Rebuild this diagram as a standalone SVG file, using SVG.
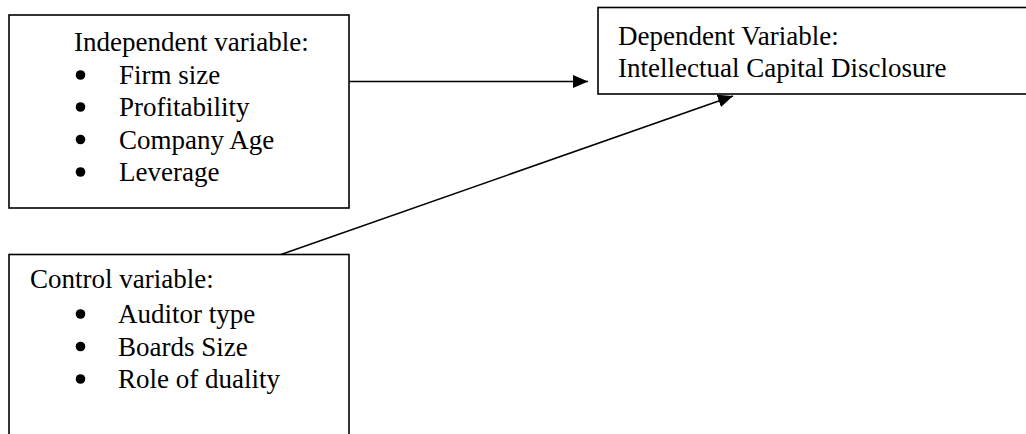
<svg xmlns="http://www.w3.org/2000/svg" width="1026" height="434" viewBox="0 0 1026 434">
  <style>
    .box { fill: #ffffff; stroke: #000000; stroke-width: 1.6; }
    .t { font-family: "Liberation Serif", "Times New Roman", serif; font-size: 27px; fill: #000000; }
    .dot { fill: #000000; }
    .conn { stroke: #000000; stroke-width: 1.5; fill: none; }
  </style>
  <defs>
    <marker id="arrow" markerUnits="userSpaceOnUse" markerWidth="16" markerHeight="14" refX="15" refY="6.5" orient="auto">
      <path d="M0,0 L15,6.5 L0,13 z" fill="#000000"/>
    </marker>
  </defs>
  <rect width="1026" height="434" fill="#ffffff"/>

  <g id="independent">
    <rect class="box" x="9" y="15" width="340" height="193"/>
    <text class="t" x="74" y="51">Independent variable:</text>
    <circle class="dot" cx="80.5" cy="75" r="4.8"/>
    <text class="t" x="119" y="84">Firm size</text>
    <circle class="dot" cx="80.5" cy="107" r="4.8"/>
    <text class="t" x="119" y="116">Profitability</text>
    <circle class="dot" cx="80.5" cy="139.5" r="4.8"/>
    <text class="t" x="119" y="148.5">Company Age</text>
    <circle class="dot" cx="80.5" cy="172" r="4.8"/>
    <text class="t" x="119" y="181">Leverage</text>
  </g>

  <g id="dependent">
    <rect class="box" x="598" y="7.5" width="440" height="86.5"/>
    <text class="t" x="618" y="45">Dependent Variable:</text>
    <text class="t" x="618" y="77">Intellectual Capital Disclosure</text>
  </g>

  <g id="control">
    <rect class="box" x="9" y="254.5" width="340" height="200"/>
    <text class="t" x="30" y="288">Control variable:</text>
    <circle class="dot" cx="80.5" cy="314" r="4.8"/>
    <text class="t" x="118" y="323">Auditor type</text>
    <circle class="dot" cx="80.5" cy="346.5" r="4.8"/>
    <text class="t" x="118" y="355.5">Boards Size</text>
    <circle class="dot" cx="80.5" cy="379" r="4.8"/>
    <text class="t" x="118" y="388">Role of duality</text>
  </g>

  <g id="connectors">
    <line class="conn" x1="349" y1="81.5" x2="588" y2="81.5" marker-end="url(#arrow)"/>
    <line class="conn" x1="281" y1="254.5" x2="733" y2="96" marker-end="url(#arrow)"/>
  </g>
</svg>
